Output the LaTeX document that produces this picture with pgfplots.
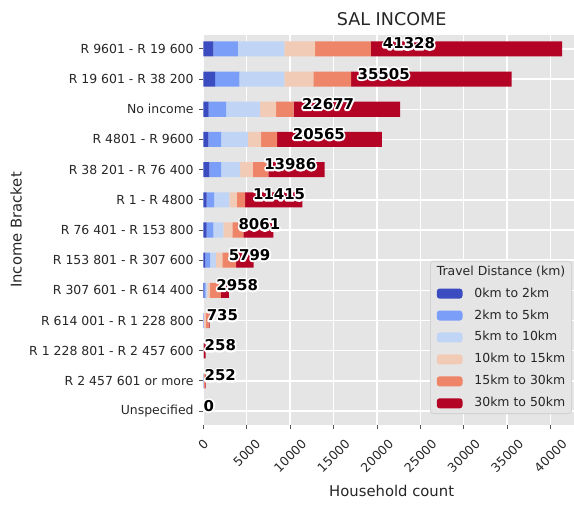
\documentclass[border=0pt]{standalone}
\usepackage{pgfplots}
\pgfplotsset{compat=1.18}
\usepackage{pgfplotstable}
\usepackage{fontspec}
\setmainfont{DejaVu Sans}

% white outlined text: a stroked white copy under the black one
\newcommand\haloed[1]{\makebox[0pt][l]{\special{pdf:code q 1 Tr 2.6 w 1 j 1 1 1 RG}#1\special{pdf:code Q}}#1}

\definecolor{cwA}{HTML}{3B4CC0}
\definecolor{cwB}{HTML}{7B9FF9}
\definecolor{cwC}{HTML}{C0D4F5}
\definecolor{cwD}{HTML}{F2CBB7}
\definecolor{cwE}{HTML}{EE8468}
\definecolor{cwF}{HTML}{B40426}
\definecolor{panel}{HTML}{E5E5E5}
\definecolor{txt}{HTML}{262626}
\definecolor{tk}{HTML}{555555}

% travel distance split per income bracket (households)
\pgfplotstableread{
pos a b c d e f total
0 1154 2815 5377 3542 6427 22013 41328
1 1350 2804 5192 3346 4350 18463 35505
2 620 2000 3920 1850 2000 12287 22677
3 580 1460 3080 1540 1850 12055 20565
4 690 1350 2190 1470 1800 6486 13986
5 390 845 1765 855 960 6600 11415
6 390 765 1155 1040 1270 3441 8061
7 230 540 690 730 1580 2029 5799
8 100 170 200 310 1230 948 2958
9 10 25 40 200 400 60 735
10 0 5 10 20 40 183 258
11 5 10 20 60 120 37 252
12 0 0 0 0 0 0 0
}\incometable

\pgfplotsset{salframe/.style={
  width=271.2bp, height=280.8bp, scale only axis,
  xmin=0, xmax=43394, ymin=-0.46, ymax=12.46, y dir=reverse,
}}

\begin{document}
\begin{tikzpicture}
\begin{axis}[salframe,
  xbar stacked, bar width=0.5,
  axis background/.style={fill=panel},
  axis line style={draw=none},
  grid=major, major grid style={white, line width=1bp},
  tick align=outside, xtick pos=bottom, ytick pos=left,
  major tick length=3.2bp, major tick style={tk, line width=0.6bp},
  xtick={0,5000,...,40000}, scaled x ticks=false,
  xticklabel={\rotatebox{45}{\pgfmathprintnumber[1000 sep={},assume math mode=true]{\tick}}},
  xticklabel style={anchor=north, inner sep=0pt, yshift=-6.4bp, font=\fontsize{9}{10}\selectfont, text=txt},
  ytick={0,...,12},
  yticklabels={R 9601 - R 19 600, R 19 601 - R 38 200, No income, R 4801 - R 9600,
    R 38 201 - R 76 400, R 1 - R 4800, R 76 401 - R 153 800, R 153 801 - R 307 600,
    R 307 601 - R 614 400, R 614 001 - R 1 228 800, R 1 228 801 - R 2 457 600,
    R 2 457 601 or more, Unspecified},
  yticklabel style={anchor=east, inner sep=0pt, xshift=-3.6bp, font=\fontsize{9}{10}\selectfont, text=txt},
  every axis title shift=0pt,
  title={SAL INCOME},
  title style={at={(axis description cs:0.5,1.0256)}, anchor=base, font=\fontsize{12.7}{15}\selectfont, text=txt},
  xlabel={Household count},
  xlabel style={at={(axis description cs:0.5,-0.1846)}, anchor=base, font=\fontsize{10.7}{13}\selectfont, text=txt},
  ylabel={Income Bracket},
  ylabel style={at={(axis description cs:-0.4973,0.5)}, anchor=center, font=\fontsize{10.7}{13}\selectfont, text=txt},
  legend cell align=left,
  legend image code/.code={\fill[#1] (0bp,-3.6bp) rectangle (18.5bp,3.6bp);},
  legend style={at={(axis description cs:1,0)}, anchor=south east, xshift=-5.8bp, yshift=7.9bp,
    fill=panel, draw=gray!35, rounded corners=2bp, line width=0.6bp,
    font=\fontsize{9}{10}\selectfont, text=txt,
    inner xsep=4.5bp, inner ysep=3bp, row sep=7bp, column sep=8.6bp,
    nodes={inner sep=0pt, text height=6.9bp, text depth=1.9bp}},
]
\addlegendimage{empty legend}
\addlegendentry{\hspace*{-27.1bp}Travel Distance (km)}
\addplot[fill=cwA, draw=none] table[x=a, y=pos]{\incometable};
\addlegendentry{0km to 2km}
\addplot[fill=cwB, draw=none] table[x=b, y=pos]{\incometable};
\addlegendentry{2km to 5km}
\addplot[fill=cwC, draw=none] table[x=c, y=pos]{\incometable};
\addlegendentry{5km to 10km}
\addplot[fill=cwD, draw=none] table[x=d, y=pos]{\incometable};
\addlegendentry{10km to 15km}
\addplot[fill=cwE, draw=none] table[x=e, y=pos]{\incometable};
\addlegendentry{15km to 30km}
\addplot[fill=cwF, draw=none] table[x=f, y=pos]{\incometable};
\addlegendentry{30km to 50km}
\end{axis}
% totals, written at half the bar length
\begin{axis}[salframe, hide axis, clip=false]
\addplot[only marks, mark=*, mark size=0pt, mark options={draw=none, fill=none},
  nodes near coords={\haloed{\pgfplotspointmeta}},
  point meta=explicit symbolic,
  nodes near coords style={anchor=base west, inner sep=0pt, text=black,
    font=\fontsize{10.8}{12}\selectfont\bfseries}]
  table[x expr=\thisrow{total}/2, y=pos, meta=total]{\incometable};
\end{axis}
\pgfresetboundingbox
\path[use as bounding box] (-146.4bp,-56.9bp) rectangle (266.9bp,306bp);
\end{tikzpicture}
\end{document}
